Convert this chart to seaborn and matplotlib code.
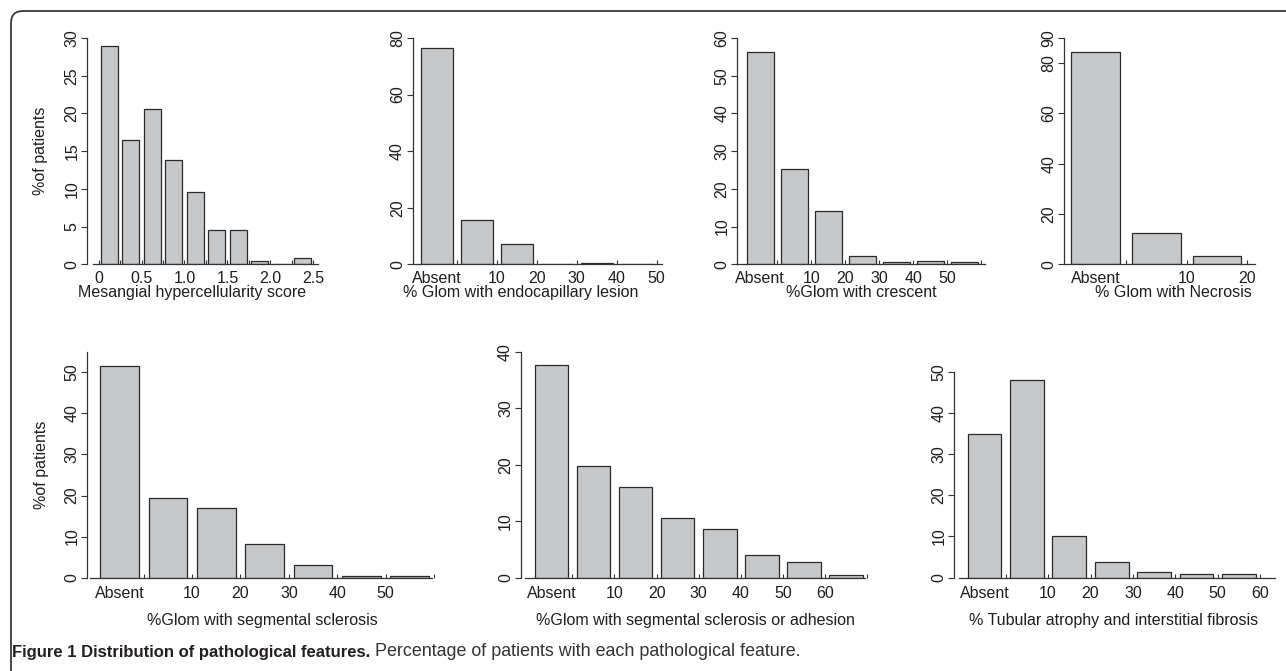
import matplotlib
matplotlib.use("Agg")
import matplotlib.pyplot as plt
import matplotlib.transforms as mtransforms
from matplotlib.patches import FancyBboxPatch
import pandas as pd
import seaborn as sns

W, H, DPI = 1286, 671, 100

# ---------------- data (% of patients, N = 218) ----------------
mesangial_pct = [28.9, 16.5, 20.6, 13.8, 9.6, 4.6, 4.6, 0.5, 0.0, 0.9]
mesangial_ticklabels = ["0", "0.5", "1.0", "1.5", "2.0", "2.5"]
endocap_pct = [76.6, 15.6, 7.3, 0.0, 0.5, 0.0]
crescent_pct = [56.4, 25.2, 14.2, 2.3, 0.5, 0.9, 0.5]
necrosis_pct = [84.4, 12.4, 3.2]
segscl_pct = [51.4, 19.3, 17.0, 8.3, 3.2, 0.5, 0.5]
segadh_pct = [37.6, 19.7, 16.1, 10.6, 8.7, 4.1, 2.8, 0.5]
tubular_pct = [34.9, 48.1, 10.1, 3.7, 1.4, 0.9, 0.9]
pct_ticklabels = ["10", "20", "30", "40", "50", "60"]

xlabels = [
    "Mesangial hypercellularity score",
    "% Glom with endocapillary lesion",
    "%Glom with crescent",
    "% Glom with Necrosis",
    "%Glom with segmental sclerosis",
    "%Glom with segmental sclerosis or adhesion",
    "% Tubular atrophy and interstitial fibrosis",
]
ylabel_text = "%of patients"
caption_bold = "Figure 1 Distribution of pathological features."
caption_rest = "Percentage of patients with each pathological feature."

# ---------------- style ----------------
sns.set_style("ticks")
plt.rcParams["font.family"] = ["Liberation Sans", "DejaVu Sans"]
FS = 11.5
BAR = "#c7c8ca"
EDGE = "#2a2a2a"
INK = "#1e1e1e"
AX = "#333333"

fig = plt.figure(figsize=(W / DPI, H / DPI), dpi=DPI)

# geometry in pixels (layout only)
top_row = dict(y0=264.3, ytop=38.0, xpad=4.6, xlab_base=297.0)
bot_row = dict(y0=577.7, ytop=351.7, xpad=6.3, xlab_base=625.0)

panels = [
    dict(vals=mesangial_pct, row=top_row, yspine=87.3, c0=109.3, pitch=21.48, xa=93.3, xb=318,
         ymax=30, ytop_val=30, yticks=[0, 5, 10, 15, 20, 25, 30],
         gaps=list(range(0, 11)), gaplab={0: 0, 2: 1, 4: 2, 6: 3, 8: 4, 10: 5},
         labs=mesangial_ticklabels, absent=False, xlc=192, ylab=True),
    dict(vals=endocap_pct, row=top_row, yspine=412.7, c0=436.7, pitch=40.0, xa=412.7, xb=662,
         ymax=80, ytop_val=80, yticks=[0, 20, 40, 60, 80],
         gaps=list(range(1, 7)), gaplab={2: 0, 3: 1, 4: 2, 5: 3, 6: 4},
         labs=pct_ticklabels, absent=True, xlc=521, ylab=False),
    dict(vals=crescent_pct, row=top_row, yspine=737.3, c0=760.3, pitch=34.0, xa=737.3, xb=985,
         ymax=60, ytop_val=60, yticks=[0, 10, 20, 30, 40, 50, 60],
         gaps=list(range(1, 8)), gaplab={2: 0, 3: 1, 4: 2, 5: 3, 6: 4},
         labs=pct_ticklabels, absent=True, xlc=861, ylab=False),
    dict(vals=necrosis_pct, row=top_row, yspine=1064.0, c0=1095.7, pitch=60.6, xa=1064, xb=1255,
         ymax=90, ytop_val=90, yticks=[0, 20, 40, 60, 80, 90],
         gaps=list(range(1, 4)), gaplab={2: 0, 3: 1},
         labs=pct_ticklabels, absent=True, xlc=1173, ylab=False),
    dict(vals=segscl_pct, row=bot_row, yspine=87.3, c0=119.7, pitch=48.67, xa=90, xb=434,
         ymax=55.0, ytop_val=55.0, yticks=[0, 10, 20, 30, 40, 50],
         gaps=list(range(1, 8)), gaplab={2: 0, 3: 1, 4: 2, 5: 3, 6: 4},
         labs=pct_ticklabels, absent=True, xlc=262, ylab=True),
    dict(vals=segadh_pct, row=bot_row, yspine=520.7, c0=551.5, pitch=42.3, xa=525, xb=867,
         ymax=40, ytop_val=40, yticks=[0, 10, 20, 30, 40],
         gaps=list(range(1, 9)), gaplab={2: 0, 3: 1, 4: 2, 5: 3, 6: 4, 7: 5},
         labs=pct_ticklabels, absent=True, xlc=695, ylab=False),
    dict(vals=tubular_pct, row=bot_row, yspine=954.3, c0=984.5, pitch=42.4, xa=959, xb=1275,
         ymax=54.85, ytop_val=50, yticks=[0, 10, 20, 30, 40, 50],
         gaps=list(range(1, 8)), gaplab={2: 0, 3: 1, 4: 2, 5: 3, 6: 4, 7: 5},
         labs=pct_ticklabels, absent=True, xlc=1114, ylab=False),
]

for p, xl in zip(panels, xlabels):
    row = p["row"]
    left, right = p["yspine"], p["xb"]
    bottom, top = row["y0"], row["ytop"]
    ax = fig.add_axes([left / W, 1 - bottom / H, (right - left) / W, (bottom - top) / H])
    n = len(p["vals"])
    df = pd.DataFrame({"bin": [str(i) for i in range(n)], "pct": p["vals"]})
    sns.barplot(data=df, x="bin", y="pct", ax=ax, color=BAR, edgecolor=EDGE,
                linewidth=0.9, width=0.8, saturation=1)
    c0, pitch = p["c0"], p["pitch"]
    ax.set_xlim((left - c0) / pitch, (right - c0) / pitch)
    ax.set_ylim(0, p["ymax"])

    for s in ("top", "right"):
        ax.spines[s].set_visible(False)
    for s in ("left", "bottom"):
        ax.spines[s].set_color(AX)
        ax.spines[s].set_linewidth(0.9)
    ax.spines["left"].set_bounds(0, p["ytop_val"])
    ax.spines["bottom"].set_bounds((p["xa"] - c0) / pitch, (p["xb"] - c0) / pitch)

    # y ticks
    ax.set_yticks(p["yticks"])
    ax.set_yticklabels([str(v) for v in p["yticks"]], rotation=90, va="center")
    ax.tick_params(axis="y", direction="out", length=4, width=0.8, pad=1.5,
                   labelsize=FS, color=AX, labelcolor=INK)

    # x ticks at the gaps between bars
    gpos = [g - 0.5 for g in p["gaps"]]
    glab = [p["labs"][p["gaplab"][g]] if g in p["gaplab"] else "" for g in p["gaps"]]
    ax.set_xticks(gpos, glab)
    if p["absent"]:
        ax.set_xticks([0], ["Absent"], minor=True)
    ax.tick_params(axis="x", which="major", direction="in", length=3, width=0.8,
                   pad=row["xpad"], labelsize=FS, color=AX, labelcolor=INK)
    ax.tick_params(axis="x", which="minor", direction="in", length=0,
                   pad=row["xpad"], labelsize=FS, labelcolor=INK)

    # labels
    ax.set_xlabel(xl, fontsize=FS, color=INK)
    ax.xaxis.set_label_coords((p["xlc"] - left) / (right - left),
                              (bottom - row["xlab_base"]) / (bottom - top))
    ax.xaxis.label.set_va("baseline")
    if p["ylab"]:
        ax.set_ylabel(ylabel_text, fontsize=FS, color=INK)
        ax.yaxis.set_label_coords((41 - left) / (right - left), 0.5)
        ax.yaxis.label.set_va("center")
    else:
        ax.set_ylabel("")

# frame with rounded top-left corner
frame = FancyBboxPatch((11, -30), 1400, (H - 11) + 30,
                       boxstyle="round,pad=0,rounding_size=12",
                       transform=mtransforms.IdentityTransform(),
                       fill=False, ec="#3a3a3a", lw=1.3)
fig.add_artist(frame)

# caption
renderer = fig.canvas.get_renderer()
cap_fam = ["Liberation Sans", "DejaVu Sans"]
t1 = fig.text(12 / W, 1 - 652 / H, caption_bold, fontsize=12, fontweight="bold",
              family=cap_fam, color="#231f20", va="center", ha="left")
bb = t1.get_window_extent(renderer)
fig.text((bb.x1 + 5) / W, 1 - 652 / H, caption_rest, fontsize=12.9,
         family=cap_fam, color="#333333", va="center", ha="left")

fig.savefig("out.png", dpi=DPI)
